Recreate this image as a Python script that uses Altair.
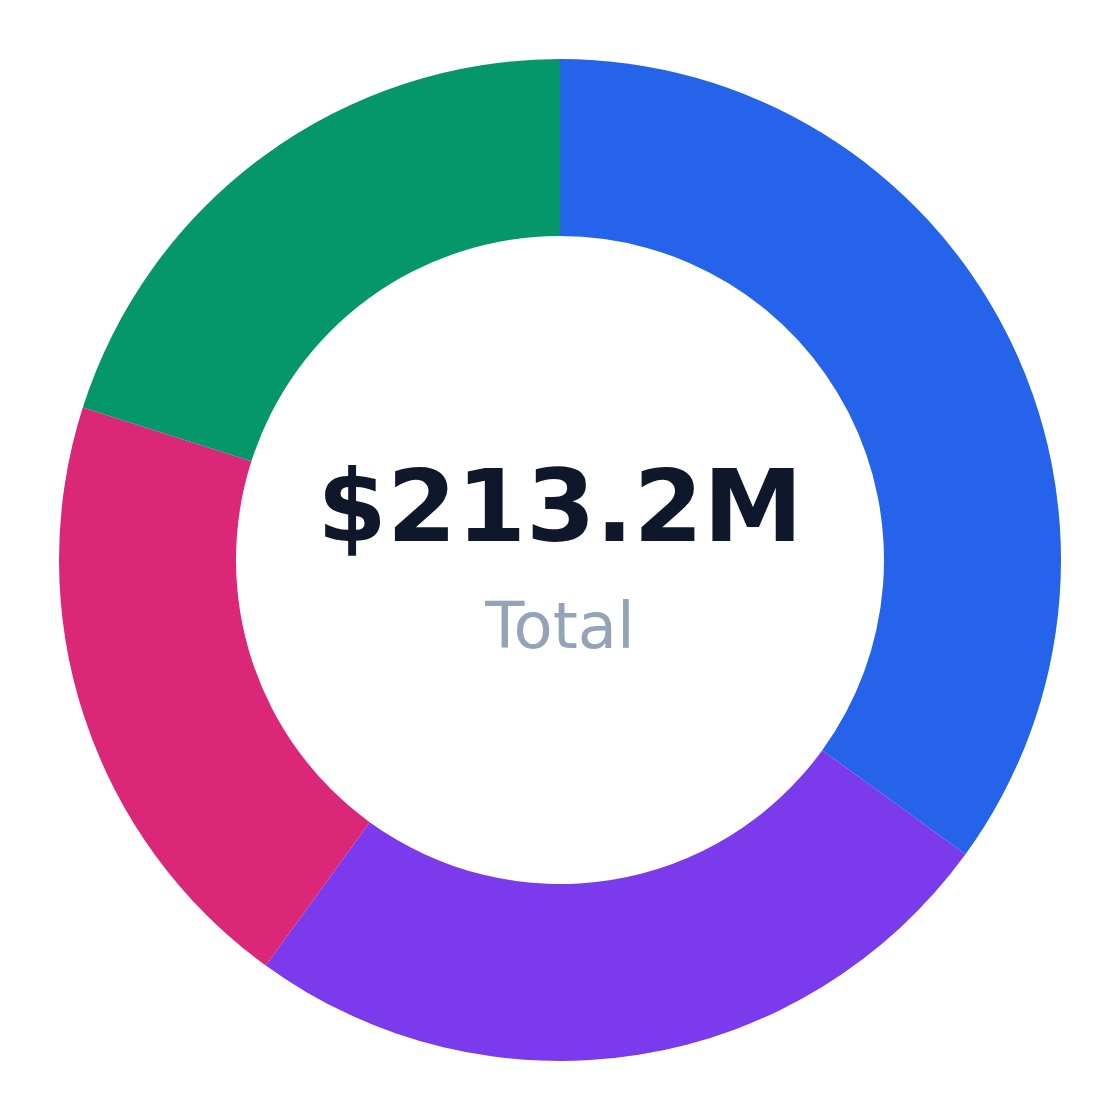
import altair as alt
import pandas as pd

categories = ["Segment A", "Segment B", "Segment C", "Segment D"]
values = [74.6, 53.3, 42.5, 42.8]  # $M
colors = ["#2563eb", "#7c3aed", "#db2777", "#059669"]
total_label = "$213.2M"
sub_label = "Total"

df = pd.DataFrame({"category": categories, "value": values, "order": list(range(len(categories)))})

W = 1104
arcs = alt.Chart(df).mark_arc(radius=501, radius2=324, innerRadius=324).encode(
    theta=alt.Theta("value:Q", stack=True),
    color=alt.Color("category:N", scale=alt.Scale(domain=categories, range=colors), legend=None),
    order=alt.Order("order:Q"),
)

txt_df = pd.DataFrame({"t": [total_label]})
big = alt.Chart(txt_df).mark_text(
    font="DejaVu Sans", fontSize=100, fontWeight="bold", color="#0f172a", baseline="alphabetic", align="center"
).encode(text="t:N", x=alt.value(W / 2), y=alt.value(533))

sub_df = pd.DataFrame({"t": [sub_label]})
small = alt.Chart(sub_df).mark_text(
    font="DejaVu Sans", fontSize=64, color="#94a3b8", baseline="alphabetic", align="center"
).encode(text="t:N", x=alt.value(W / 2), y=alt.value(640))

chart = alt.layer(arcs, big, small).properties(width=W, height=W, padding=0).configure_view(stroke=None)
chart.save("out.html", embed_options={"renderer": "svg", "actions": False})
